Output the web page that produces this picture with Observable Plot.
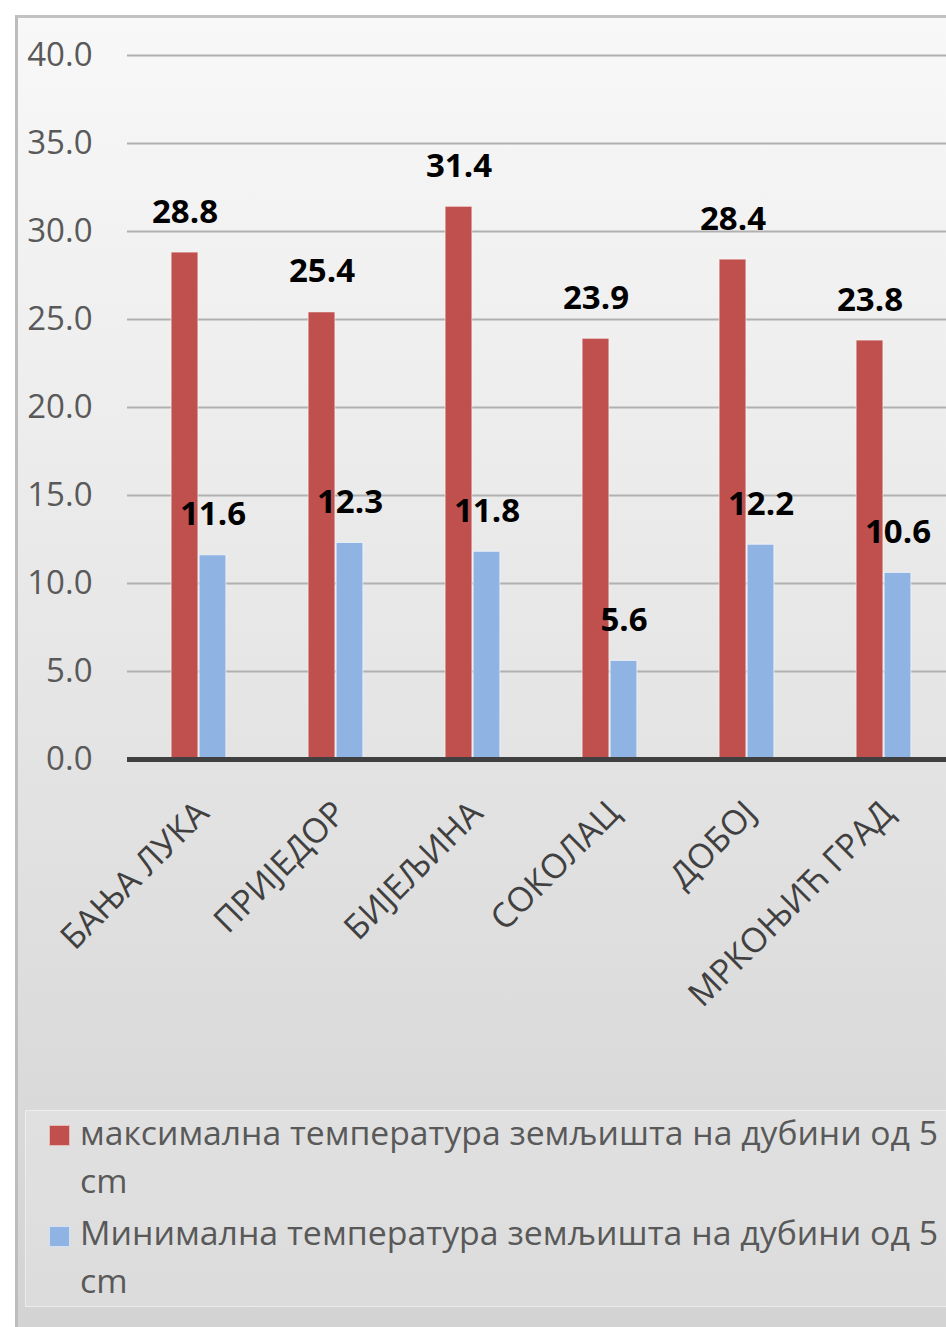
<!DOCTYPE html>
<html>
<head>
<meta charset="utf-8">
<script src="https://cdn.jsdelivr.net/npm/d3@7"></script>
<script src="https://cdn.jsdelivr.net/npm/@observablehq/plot@0.6"></script>
<style>
  html, body { margin: 0; padding: 0; width: 946px; height: 1327px; overflow: hidden; background: #ffffff; font-family: "Open Sans", sans-serif; }
  #frame { position: absolute; left: 15px; top: 15px; width: 1000px; height: 1400px; box-sizing: border-box;
           border-left: 3px solid #bdbdbd; border-top: 3px solid #c2c2c2;
           background: linear-gradient(to bottom, #f8f8f8 0px, #e6e6e6 650px, #d3d3d3 1312px, #cfcfcf 1400px); }
  #chart { position: absolute; left: 0; top: 0; }
  #legendBox { position: absolute; left: 25px; top: 1110px; width: 1000px; height: 197px; box-sizing: border-box;
               border: 1px solid rgba(255,255,255,0.45); background: rgba(255,255,255,0.2); }
  .lg { position: absolute; left: 80px; font-size: 32px; line-height: 48px; color: #595959; white-space: nowrap; transform-origin: 0 50%; }
  .sw { position: absolute; left: 49px; width: 21px; height: 21px; box-sizing: border-box; border: 1px solid rgba(255,255,255,0.6); }
</style>
</head>
<body>
<div id="frame"></div>
<div id="chart"></div>
<div id="legendBox"></div>
<div id="legend"></div>
<script>
// ---- data ----
const stations = ["БАЊА ЛУКА", "ПРИЈЕДОР", "БИЈЕЉИНА", "СОКОЛАЦ", "ДОБОЈ", "МРКОЊИЋ ГРАД"];
const maxTemp = [28.8, 25.4, 31.4, 23.9, 28.4, 23.8];
const minTemp = [11.6, 12.3, 11.8, 5.6, 12.2, 10.6];
const yTicks = [0, 5, 10, 15, 20, 25, 30, 35, 40];
const seriesNames = [
  "максимална температура земљишта на дубини од 5 cm",
  "Минимална температура земљишта на дубини од 5 cm"
];
const seriesColors = ["#c0504d", "#8fb4e3"];

const maxRows = stations.map((s, i) => ({station: s, series: seriesNames[0], value: maxTemp[i]}));
const minRows = stations.map((s, i) => ({station: s, series: seriesNames[1], value: minTemp[i]}));

const fmt = d => d.toFixed(1);

const plot = Plot.plot({
  width: 946,
  height: 1100,
  marginLeft: 127,
  marginRight: 0,
  marginTop: 55,
  marginBottom: 341,
  style: {background: "transparent", fontFamily: "Open Sans, sans-serif", overflow: "hidden"},
  x: {domain: stations, range: [127.6, 954.4], padding: 0, axis: null},
  y: {domain: [0, 40], axis: null},
  color: {domain: seriesNames, range: seriesColors},
  marks: [
    Plot.ruleY(yTicks.filter(v => v > 0), {stroke: "#b0b0b0", strokeWidth: 2}),
    Plot.axisY({ticks: yTicks, tickFormat: fmt, tickSize: 0, tickPadding: 35, fontSize: 33, fill: "#595959", label: null}),
    Plot.barY(maxRows, {x: "station", y: "value", fill: "series", insetLeft: 55.15, insetRight: 55.15, dx: -14,
                        stroke: "white", strokeOpacity: 0.5, strokeWidth: 1}),
    Plot.barY(minRows, {x: "station", y: "value", fill: "series", insetLeft: 55.15, insetRight: 55.15, dx: 14,
                        stroke: "white", strokeOpacity: 0.6, strokeWidth: 1}),
    Plot.ruleY([0], {stroke: "#404040", strokeWidth: 5}),
    Plot.text(maxRows, {x: "station", y: "value", text: d => fmt(d.value), dx: -14, dy: -30, lineAnchor: "bottom",
                        fontSize: 33, fontWeight: "bold", fill: "#000"}),
    Plot.text(minRows, {x: "station", y: "value", text: d => fmt(d.value), dx: 14, dy: -30, lineAnchor: "bottom",
                        fontSize: 33, fontWeight: "bold", fill: "#000"}),
    Plot.text(stations, {x: d => d, frameAnchor: "bottom", rotate: -45, textAnchor: "end", lineAnchor: "middle",
                         dx: 4, dy: 48, fontSize: 34, fill: "#404040"})
  ]
});
document.getElementById("chart").appendChild(plot);

// ---- legend (below the SVG) ----
const legend = document.getElementById("legend");
const entries = [
  {name: seriesNames[0], color: seriesColors[0], top: 1108.6, swTop: 1125},
  {name: seriesNames[1], color: seriesColors[1], top: 1208.6, swTop: 1226}
];
const targetWidth = 858;
entries.forEach(e => {
  const sw = document.createElement("div");
  sw.className = "sw";
  sw.style.top = e.swTop + "px";
  sw.style.background = e.color;
  legend.appendChild(sw);
  const words = e.name.split(" ");
  const first = words.slice(0, -1).join(" ");
  const last = words[words.length - 1];
  const l1 = document.createElement("div");
  l1.className = "lg";
  l1.style.top = e.top + "px";
  l1.textContent = first;
  legend.appendChild(l1);
  const l2 = document.createElement("div");
  l2.className = "lg";
  l2.style.top = (e.top + 48) + "px";
  l2.textContent = last;
  legend.appendChild(l2);
  const w = l1.getBoundingClientRect().width;
  const k = targetWidth / w;
  l1.style.transform = `scaleX(${k})`;
  l2.style.transform = `scaleX(${k})`;
});
</script>
</body>
</html>
